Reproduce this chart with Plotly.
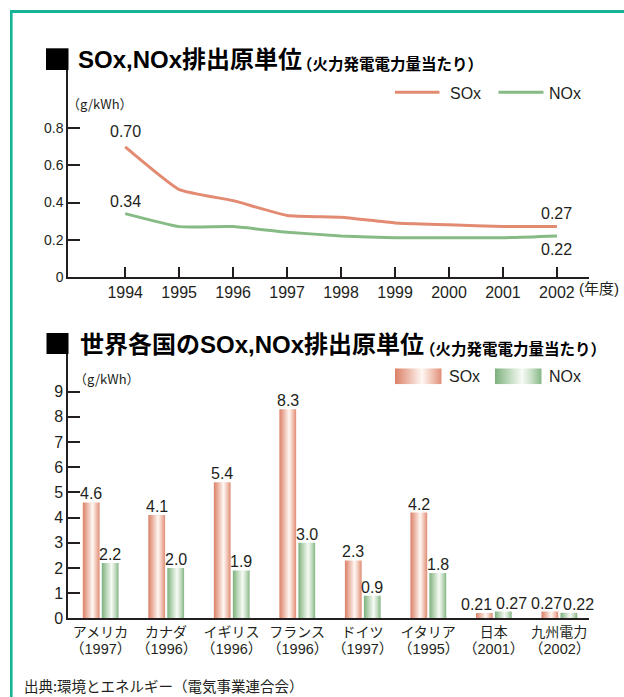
import base64
import plotly.graph_objects as go

W, H = 624, 697

# ---- trend of emission intensity (g/kWh) ----
years = [1994, 1995, 1996, 1997, 1998, 1999, 2000, 2001, 2002]
sox_trend = [0.70, 0.47, 0.41, 0.33, 0.32, 0.29, 0.28, 0.27, 0.27]
nox_trend = [0.34, 0.27, 0.27, 0.24, 0.22, 0.21, 0.21, 0.21, 0.22]
trend_y_ticks = [0, 0.2, 0.4, 0.6, 0.8]
trend_y_ticktext = ["0", "0.2", "0.4", "0.6", "0.8"]

# ---- international comparison (g/kWh) ----
countries = ["アメリカ", "カナダ", "イギリス", "フランス", "ドイツ", "イタリア", "日本", "九州電力"]
survey_years = ["1997", "1996", "1996", "1996", "1997", "1995", "2001", "2002"]
sox_country = [4.6, 4.1, 5.4, 8.3, 2.3, 4.2, 0.21, 0.27]
nox_country = [2.2, 2.0, 1.9, 3.0, 0.9, 1.8, 0.27, 0.22]
sox_country_text = ["4.6", "4.1", "5.4", "8.3", "2.3", "4.2", "0.21", "0.27"]
nox_country_text = ["2.2", "2.0", "1.9", "3.0", "0.9", "1.8", "0.27", "0.22"]
country_y_ticks = [0, 1, 2, 3, 4, 5, 6, 7, 8, 9]

SOX_LINE = "#e38b72"
NOX_LINE = "#86bb86"
INK = "#231f20"
FRAME = "#17b395"
FONT = "Liberation Sans, Arial, Noto Sans CJK JP, sans-serif"
JFONT = "Noto Sans CJK JP, Liberation Sans, sans-serif"

SOX_SCALE = [[0, "#dc8067"], [0.25, "#eab2a1"], [0.58, "#fff8f4"], [0.8, "#f1c2b2"], [1, "#df8c75"]]
NOX_SCALE = [[0, "#7cb07c"], [0.25, "#b4d3b2"], [0.58, "#f8fbf6"], [0.8, "#c3dcc1"], [1, "#84b684"]]


def px(x):
    return x / W


def py(y):
    return 1 - y / H


fig = go.Figure()

# ---- line chart ----
fig.add_trace(go.Scatter(x=years, y=sox_trend, mode="lines", xaxis="x", yaxis="y",
                         line=dict(color=SOX_LINE, width=3, shape="spline", smoothing=0.4),
                         hoverinfo="skip"))
fig.add_trace(go.Scatter(x=years, y=nox_trend, mode="lines", xaxis="x", yaxis="y",
                         line=dict(color=NOX_LINE, width=3, shape="spline", smoothing=0.4),
                         hoverinfo="skip"))

annotations = []
for series, idx, shift in [(sox_trend, 0, 15), (nox_trend, 0, 12), (sox_trend, -1, 13), (nox_trend, -1, -14)]:
    annotations.append(dict(x=years[idx], y=series[idx], xref="x", yref="y",
                            text=f"{series[idx]:.2f}", showarrow=False, yanchor="middle",
                            yshift=shift, font=dict(size=16, color=INK, family=FONT)))

# ---- bar chart (cylinder-shaded bars) ----
BAR_W = 0.256
label_nudge = {("SOx", 6): -8, ("NOx", 6): 8, ("SOx", 7): -3, ("NOx", 7): 10}
for name, values, texts, offset, scale in [
    ("SOx", sox_country, sox_country_text, -0.27, SOX_SCALE),
    ("NOx", nox_country, nox_country_text, 0.02, NOX_SCALE),
]:
    for i, v in enumerate(values):
        x0 = i + offset
        x1 = x0 + BAR_W
        fig.add_trace(go.Scatter(
            x=[x0, x0, x1, x1, x0], y=[0, v, v, 0, 0], xaxis="x2", yaxis="y2",
            mode="lines", line=dict(width=0), fill="toself",
            fillgradient=dict(type="horizontal", colorscale=scale),
            hoverinfo="skip", name=name))
        annotations.append(dict(x=(x0 + x1) / 2, y=v, xref="x2", yref="y2", text=texts[i],
                                showarrow=False, yanchor="bottom", yshift=-2,
                                xshift=label_nudge.get((name, i), 0),
                                font=dict(size=16, color=INK, family=FONT)))

# survey year shown beneath each country name
for i, y in enumerate(survey_years):
    annotations.append(dict(x=i, y=py(648.5), xref="x2", yref="paper", text=f"（{y}）",
                            showarrow=False, yanchor="middle",
                            font=dict(size=14.5, color=INK, family=FONT)))


# ---- texts ----
def paper_text(x, y, text, size, xanchor="left", bold=False, family=FONT):
    if bold:
        text = f"<b>{text}</b>"
    annotations.append(dict(x=px(x), y=py(y), xref="paper", yref="paper", text=text,
                            showarrow=False, xanchor=xanchor, yanchor="middle",
                            font=dict(size=size, color="#000000" if bold else INK, family=family)))


paper_text(75.5, 59, "SOx,NOx排出原単位", 24, bold=True)
paper_text(295, 63.5, "（火力発電電力量当たり）", 15.5, bold=True, family=JFONT)
paper_text(65, 104, "（g/kWh）", 13, family=JFONT)
paper_text(621, 289, "(年度)", 15, xanchor="right")
paper_text(448, 93, "SOx", 16)
paper_text(546.5, 93, "NOx", 16)

paper_text(78, 344, "世界各国のSOx,NOx排出原単位", 24, bold=True)
paper_text(418, 347.5, "（火力発電電力量当たり）", 15.5, bold=True, family=JFONT)
paper_text(72, 378, "（g/kWh）", 13, family=JFONT)
paper_text(446.5, 376.5, "SOx", 16)
paper_text(546.5, 376.5, "NOx", 16)

paper_text(22, 685, "出典:環境とエネルギー（電気事業連合会）", 14.5, family=JFONT)

# ---- decorative shapes: frame, heading squares, line legend ----
shapes = [
    dict(type="line", xref="paper", yref="paper", x0=px(10), x1=1, y0=py(11.5), y1=py(11.5),
         line=dict(color=FRAME, width=3)),
    dict(type="line", xref="paper", yref="paper", x0=px(11.3), x1=px(11.3), y0=py(10), y1=0,
         line=dict(color=FRAME, width=2.6)),
    dict(type="rect", xref="paper", yref="paper", x0=px(46), x1=px(68.5), y0=py(48.3), y1=py(70),
         fillcolor="#000000", line=dict(width=0)),
    dict(type="rect", xref="paper", yref="paper", x0=px(46.5), x1=px(68.5), y0=py(333), y1=py(354),
         fillcolor="#000000", line=dict(width=0)),
    dict(type="line", xref="paper", yref="paper", x0=px(395), x1=px(439.5), y0=py(92.3), y1=py(92.3),
         line=dict(color=SOX_LINE, width=3)),
    dict(type="line", xref="paper", yref="paper", x0=px(498.5), x1=px(543.5), y0=py(92.3), y1=py(92.3),
         line=dict(color=NOX_LINE, width=3)),
]


def gradient_swatch(scale):
    stops = "".join(f'<stop offset="{p}" stop-color="{c}"/>' for p, c in scale)
    svg = ('<svg xmlns="http://www.w3.org/2000/svg" width="100" height="40" preserveAspectRatio="none">'
           f'<defs><linearGradient id="g" x1="0" x2="1" y1="0" y2="0">{stops}</linearGradient></defs>'
           '<rect width="100" height="40" fill="url(#g)"/></svg>')
    return "data:image/svg+xml;base64," + base64.b64encode(svg.encode()).decode()


images = [
    dict(source=gradient_swatch(SOX_SCALE), xref="paper", yref="paper", x=px(395), y=py(368.3),
         sizex=46.7 / W, sizey=16 / H, xanchor="left", yanchor="top", sizing="stretch", layer="above"),
    dict(source=gradient_swatch(NOX_SCALE), xref="paper", yref="paper", x=px(495), y=py(368.3),
         sizex=46.7 / W, sizey=16 / H, xanchor="left", yanchor="top", sizing="stretch", layer="above"),
]

axis_common = dict(showgrid=False, zeroline=False, showline=True, linecolor=INK, tickcolor=INK)

fig.update_layout(
    width=W, height=H, margin=dict(l=0, r=0, t=0, b=0),
    paper_bgcolor="white", plot_bgcolor="white", showlegend=False,
    template="none", font=dict(family=FONT, color=INK),
    xaxis=dict(**axis_common, domain=[px(68), px(589.3)], range=[1992.94, 2002.6], anchor="y",
               linewidth=2, ticks="inside", ticklen=10, tickwidth=2,
               tickfont=dict(size=16, color=INK, family=FONT),
               tickvals=years + [2002.6], ticktext=[str(y) for y in years] + [""]),
    yaxis=dict(**axis_common, domain=[py(276.7), py(70)], range=[0, (276.7 - 70) / 185.5], anchor="x",
               linewidth=1.5, ticks="inside", ticklen=12, tickwidth=2,
               tickfont=dict(size=14, color=INK, family=FONT),
               tickvals=trend_y_ticks, ticktext=trend_y_ticktext),
    xaxis2=dict(**axis_common, domain=[px(68), px(589.3)], range=[-0.496, 7.46], anchor="y2",
                linewidth=2, ticks="",
                tickfont=dict(size=14, color=INK, family=JFONT),
                tickvals=list(range(len(countries))), ticktext=countries),
    yaxis2=dict(**axis_common, domain=[py(618.3), py(354)], range=[0, (618.3 - 354) / 25.18], anchor="x2",
                linewidth=1.5, ticks="inside", ticklen=12, tickwidth=2,
                tickfont=dict(size=16, color=INK, family=FONT),
                tickvals=country_y_ticks),
    annotations=annotations, shapes=shapes, images=images,
)

fig.write_html("out.html")
